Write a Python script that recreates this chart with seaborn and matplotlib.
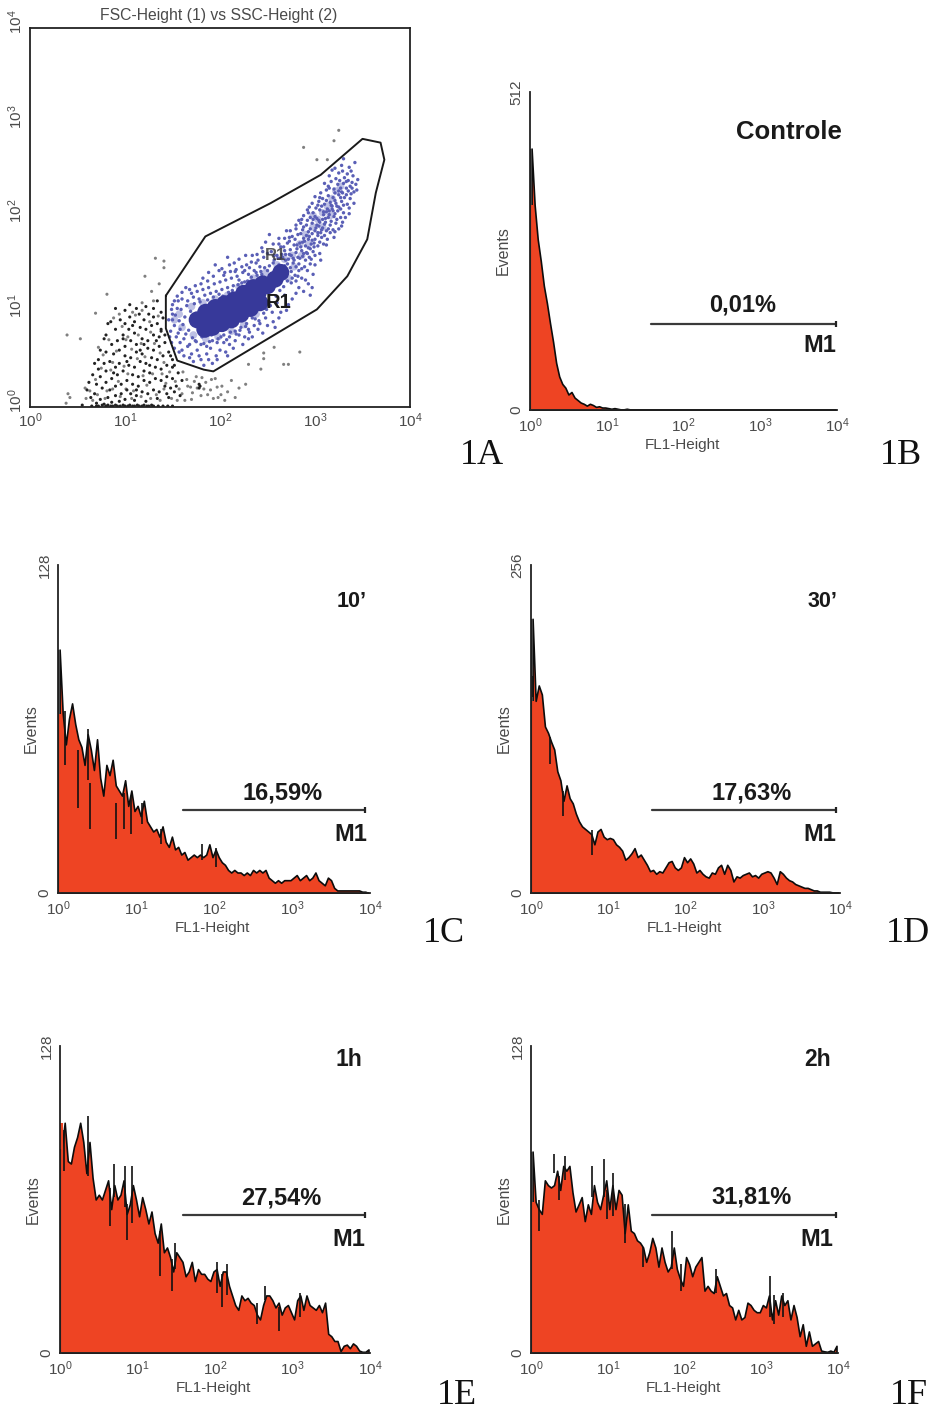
import numpy as np
import pandas as pd
import matplotlib
matplotlib.use("Agg")
import matplotlib.pyplot as plt
import seaborn as sns

W, H = 935, 1411

# ---- histogram channel counts, 25 channels per decade
counts_b = [421,330,275,240,200,172,140,110,76,54,42,36,25,29,20,16,12,10,7,10,8,5,6,4,4,
            3,2,3,2,1,1,2,1,1,1,1,1,1,1,1,1,1,1,1,1,1,1,1,1,1,
            1,1,1,1,1,1,1,1,1,1,1,1,1,1,1,1,1,1,1,1,1,1,1,1,1,
            1,1,1,1,1,1,1,1,1,1,1,1,1,1,1,1,1,1,1,1,1,1,1,1,1]
counts_c = [95,70,58,68,74,66,60,57,50,62,56,48,60,45,38,50,46,52,42,40,38,44,34,40,32,
            34,30,36,28,26,24,25,22,26,20,18,22,17,18,15,16,13,14,15,14,15,14,15,19,14,
            17,14,12,11,9,8,9,8,8,7,8,7,9,8,9,8,9,6,5,4,5,4,5,5,5,
            6,7,5,6,7,5,6,8,5,4,3,6,5,2,1,1,1,1,1,1,1,1,0.5,0.5,0]
counts_d = [214,150,162,155,130,125,118,112,95,88,72,84,74,70,62,56,52,50,48,46,38,48,50,44,42,
            43,42,38,36,33,26,28,31,35,28,30,26,22,17,18,15,17,16,20,24,25,20,18,20,28,
            24,27,23,16,18,15,13,12,16,15,20,22,15,22,18,9,13,12,14,15,16,13,14,12,15,
            16,17,16,12,7,17,15,12,10,9,7,6,5,4,4,3,2,2,1,1,1,1,0.5,0.5,0.5]
counts_e = [85,96,80,79,86,90,96,88,75,88,73,64,66,64,68,72,60,70,64,66,72,58,62,70,64,
            57,65,60,54,59,50,46,54,42,44,40,34,42,40,38,32,34,38,30,35,33,33,31,30,34,
            35,28,34,34,28,24,20,18,24,22,23,21,20,16,14,20,24,24,22,19,21,16,19,20,17,
            14,22,24,18,24,20,19,18,20,17,21,8,7,5,5,0.8,3,3.5,2,4,3,1,0.5,0.5,1.5]
counts_f = [84,63,60,58,72,70,69,70,76,68,78,76,78,67,59,62,65,55,62,58,70,63,60,66,72,
            60,70,60,68,66,50,62,51,50,47,46,44,38,42,48,44,36,44,38,34,36,44,35,31,28,
            40,37,32,36,38,40,26,28,26,25,32,28,24,25,20,19,14,18,14,15,21,20,18,17,17,
            20,19,24,14,22,16,24,20,22,14,20,15,7,12,3,9,3,4,5,1,0.7,0.5,1,0.5,3]

# ---- thin black event spikes: decade, low count, high count
spikes_c = [(.085,50,71),(.256,33,56),(.406,25,43),(.385,44,64),(.74,21,35),(.84,25,39),(.94,23,38),(1.08,27,35),(1.32,19,25),(1.85,13,19),(2.03,10,17.5)]
spikes_d = [(.03,153,169),(.25,101,122),(.42,60,80),(.79,30,49)]
spikes_e = [(.05,76,93),(.355,74,99),(.645,53,69),(.70,65,79),(.84,61,78),(.87,47,62),(.925,54,78),(1.29,32,51),(1.44,26,39),(1.48,35,46),
            (2.03,25,38),(2.09,19,33),(2.15,24,37),(2.54,12,21),(2.65,22,28),(2.83,9,19),(3.1,15,25)]
spikes_f = [(.10,51,64),(.36,64,74),(.30,75,83),(.445,72,82),(.80,65,78),(.95,65,81),(.99,56,68),(1.065,57,75),(1.225,46,62),(1.46,36,44),
            (1.835,35,51),(1.96,26,37),(2.41,25,35),(3.11,15,32),(3.17,12,24),(3.28,15,25)]

# ---- gate R1 (log10 FSC, log10 SSC)
gate_x = [1.43,1.846,2.53,3.06,3.50,3.69,3.73,3.64,3.55,3.34,3.02,1.93,1.83,1.55,1.43,1.43]
gate_y = [1.175,1.80,2.15,2.45,2.83,2.79,2.61,2.26,1.77,1.38,1.03,0.376,0.394,0.49,0.83,1.175]

# ---- dense core of the gated population
core_x = [1.76,1.82,1.9,2.0,2.1,2.2,2.3,2.4,2.5,2.58,2.64, 1.85,1.95,2.05,2.15,2.25,2.35,2.45, 1.84,1.92,2.02,2.12,2.22,2.32,2.42]
core_y = [0.92,0.9,0.93,0.97,1.0,1.07,1.13,1.2,1.28,1.35,1.42, 1.0,1.05,1.09,1.13,1.2,1.26,1.3, 0.82,0.84,0.88,0.92,0.98,1.04,1.1]
mid_pts = [(1.52,0.92),(1.57,0.98),(1.6,0.84),(1.7,1.06),(1.72,0.76),(1.82,1.1),(1.85,0.72),(1.95,1.14),(1.98,0.74),
           (2.08,1.18),(2.12,0.8),(2.2,1.27),(2.25,0.87),(2.35,1.36),(2.38,0.98),(2.48,1.42),(2.5,1.1),(2.6,1.5),
           (2.68,1.56),(2.72,1.36),(2.76,1.6),(2.78,1.48),(2.84,1.72),(2.86,1.6),(2.9,1.82),(2.93,1.72),(2.98,1.9),(3.03,1.98),
           (3.08,2.05),(3.13,2.12),(3.18,2.2),(3.22,2.28),(3.27,2.33),(2.98,2.02),(3.08,1.9),(3.16,2.02)]
# ---- gated events, each read by eye
blue_pts = [(3.3,2.62),(3.42,2.58),(3.28,2.55),(3.36,2.53),(3.18,2.5),(3.25,2.47),(3.34,2.46),(3.4,2.44),(3.31,2.42),(3.22,2.41),(3.45,2.4),
 (3.1,2.36),(3.17,2.38),(3.24,2.35),(3.3,2.36),(3.37,2.33),(3.43,2.35),(3.27,2.31),(3.2,2.3),(3.12,2.29),(3.35,2.28),(3.41,2.27),(3.06,2.26),
 (3.0,2.22),(3.08,2.2),(3.14,2.23),(3.19,2.21),(3.25,2.24),(3.31,2.21),(3.37,2.2),(3.28,2.17),(3.22,2.15),(3.16,2.16),(3.1,2.14),(3.03,2.13),(2.97,2.15),(3.34,2.14),
 (2.92,2.08),(2.98,2.05),(3.05,2.08),(3.12,2.06),(3.18,2.09),(3.24,2.07),(3.3,2.05),(3.36,2.04),(3.27,2.0),(3.2,2.01),(3.14,2.0),(3.08,1.98),(3.02,1.99),(2.95,2.0),(2.88,2.02),
 (2.85,1.94),(2.91,1.92),(2.97,1.94),(3.04,1.91),(3.1,1.93),(3.16,1.92),(3.22,1.94),(3.28,1.91),(3.19,1.87),(3.12,1.86),(3.06,1.84),(3.0,1.86),(2.93,1.85),(2.87,1.87),(2.8,1.88),
 (2.76,1.8),(2.82,1.82),(2.88,1.78),(2.94,1.8),(3.0,1.77),(3.07,1.79),(3.13,1.77),(3.2,1.79),(3.09,1.72),(3.03,1.7),(2.96,1.72),(2.9,1.7),(2.84,1.73),(2.78,1.71),(2.71,1.73),
 (2.68,1.65),(2.74,1.66),(2.8,1.63),(2.86,1.65),(2.92,1.62),(2.98,1.64),(3.05,1.62),(2.96,1.56),(2.9,1.55),(2.84,1.57),(2.78,1.55),(2.72,1.56),(2.66,1.58),(2.6,1.6),
 (2.56,1.52),(2.62,1.5),(2.68,1.49),(2.74,1.47),(2.8,1.48),(2.86,1.46),(2.92,1.44),(2.98,1.4),(2.9,1.34),(2.82,1.38),(2.76,1.36),(2.7,1.38),(2.83,1.26),(2.95,1.18),(2.88,1.22),
 (2.5,1.62),(2.44,1.68),(2.56,1.72),(2.62,1.78),(2.52,1.82),(2.48,1.74),(2.7,1.86),(2.4,1.55),(2.34,1.6),(2.28,1.5),(2.2,1.56),(2.15,1.52),(2.08,1.58),(2.02,1.46),(1.95,1.5),(1.88,1.42),(1.82,1.36),
 (2.42,1.48),(2.36,1.44),(2.3,1.4),(2.24,1.42),(2.18,1.38),(2.12,1.36),(2.06,1.34),(2.0,1.32),(1.94,1.3),(1.88,1.26),(1.82,1.24),(1.76,1.22),(1.7,1.2),(1.64,1.26),(1.56,1.12),
 (1.5,1.08),(1.55,1.04),(1.5,0.98),(1.46,0.92),(1.52,0.86),(1.48,0.8),(1.54,0.74),(1.58,0.68),(1.52,0.62),(1.6,0.6),(1.66,0.64),(1.62,0.54),(1.7,0.56),(1.76,0.6),(1.72,0.48),(1.8,0.5),(1.86,0.56),(1.83,0.44),(1.92,0.46),(1.96,0.54),(2.0,0.6),(1.9,0.62),
 (2.06,0.58),(2.1,0.66),(2.04,0.68),(2.16,0.7),(2.2,0.76),(2.26,0.74),(2.3,0.82),(2.36,0.86),(2.42,0.88),(2.48,0.94),(2.55,1.0),(2.6,1.1),(2.68,1.18),(2.56,0.9),(2.64,1.0),(2.72,1.08),(2.34,0.74),(2.45,0.78),(2.58,0.84),
 (1.6,1.14),(1.66,1.12),(1.72,1.16),(1.78,1.14),(1.84,1.18),(1.9,1.2),(1.96,1.22),(2.02,1.24),(2.08,1.26),(2.14,1.28),(2.2,1.34),(2.26,1.32),(2.32,1.3),(2.38,1.42),(2.44,1.4),(2.5,1.44),
 (1.56,0.78),(1.62,0.72),(1.68,0.66),(1.74,0.7),(1.8,0.66),(1.86,0.64),(1.92,0.7),(1.98,0.72),(2.04,0.76),(2.1,0.74),(2.16,0.8),(2.22,0.84),(2.28,0.88),(2.34,0.94),
 (1.53,0.97),(1.57,0.91),(1.59,1.03),(1.61,0.87),(1.63,0.95),(1.65,1.07),(1.67,0.81),(1.69,1.01),(1.71,0.73),(1.73,1.09),(1.58,0.82),(1.64,0.77),(1.75,0.69),(1.79,1.11),(1.81,0.74),(1.83,0.67),(1.87,1.13),(1.89,0.69),(1.91,0.76),(1.93,1.16),
 (1.97,0.68),(1.99,1.19),(2.01,0.74),(2.03,1.17),(2.07,0.71),(2.09,1.21),(2.11,0.79),(2.13,1.23),(2.17,0.77),(2.19,1.29),(2.21,0.81),(2.23,1.31),(2.27,0.85),(2.29,1.33),(2.31,0.79),(2.33,1.37),(2.37,0.93),(2.39,1.39),(2.41,0.91),(2.43,1.43),
 (2.46,0.99),(2.47,1.47),(2.49,1.03),(2.52,1.49),(2.53,1.07),(2.57,1.55),(2.59,1.17),(2.61,1.57),(2.63,1.23),(2.65,1.61),(2.67,1.27),(2.69,1.55),(2.71,1.33),(2.73,1.61),(2.75,1.43),(2.77,1.57),(2.79,1.39),(2.81,1.67),(2.83,1.51),(2.85,1.69),
 (2.87,1.59),(2.89,1.75),(2.91,1.63),(2.93,1.77),(2.95,1.67),(2.97,1.83),(2.99,1.73),(3.01,1.89),(3.03,1.81),(3.05,1.95),(3.07,1.87),(3.09,2.03),(3.11,1.95),(3.13,2.09),(3.15,2.03),(3.17,2.13),(3.19,2.07),(3.21,2.18),(3.23,2.12),(3.25,2.28),
 (3.27,2.21),(3.29,2.26),(3.33,2.31),(3.35,2.39),(3.39,2.37),(3.26,2.39),(3.15,2.31),(3.04,2.17),(2.94,2.11),(2.83,1.97),(2.73,1.79),(2.64,1.69),(2.54,1.64),(2.46,1.58),(2.38,1.52),(2.31,1.47),(2.26,1.44),(2.17,1.45),(2.11,1.43),(2.04,1.39),
 (3.15,2.44),(3.21,2.52),(3.29,2.49),(3.38,2.49),(3.33,2.38),(3.39,2.31),(3.44,2.29),(3.14,2.33),(3.21,2.26),(3.28,2.27),(3.33,2.24),(3.38,2.25),(3.05,2.21),(3.12,2.18),(3.18,2.12),(3.25,2.11),(3.3,2.13),(3.36,2.1),(3.41,2.15),(3.01,2.1),
 (3.07,2.12),(2.93,2.05),(3.0,2.01),(3.09,2.06),(3.15,2.07),(3.21,2.04),(3.27,2.09),(3.32,2.0),(2.86,1.98),(2.92,1.97),(2.98,1.98),(3.04,1.97),(3.11,1.99),(3.17,1.96),(3.23,1.98),(3.29,1.95),(2.8,1.92),(2.88,1.9),(2.95,1.88),(3.02,1.92),
 (3.08,1.89),(3.14,1.88),(3.21,1.85),(3.25,1.88),(2.74,1.86),(2.79,1.77),(2.85,1.83),(2.91,1.81),(2.97,1.76),(3.03,1.84),(3.1,1.81),(3.16,1.84),(2.68,1.78),(2.73,1.75),(2.81,1.71),(2.87,1.74),(2.93,1.68),(2.99,1.69),(3.05,1.74),(3.12,1.71),
 (2.62,1.72),(2.67,1.69),(2.75,1.6),(2.82,1.58),(2.88,1.62),(2.94,1.58),(3.0,1.6),(3.06,1.55),(2.57,1.6),(2.63,1.57),(2.69,1.61),(2.71,1.51),(2.77,1.52),(2.83,1.44),(2.89,1.48),(2.95,1.51),(3.0,1.5),(2.64,1.43),(2.7,1.45),(2.75,1.31),
 (2.8,1.33),(2.86,1.36),(2.93,1.3),(2.97,1.26),(2.45,1.64),(2.39,1.61),(2.33,1.53),(2.27,1.6),(2.23,1.48),(2.16,1.43),(2.1,1.5),(2.05,1.42),(1.99,1.44),(1.93,1.38),(1.87,1.33),(1.8,1.3),(1.74,1.28),(1.68,1.24),(1.6,1.21),(1.55,1.17),
 (2.4,0.82),(2.5,0.86),(2.62,0.94),(2.7,1.02),(2.76,1.14),(2.8,1.2),(2.3,0.72),(2.24,0.66),(2.14,0.62),(2.08,0.54),(1.97,0.5),(1.88,0.5),(1.78,0.54),(1.68,0.52),(1.57,0.58),(1.49,0.68),(1.47,0.74),(1.5,0.92),(1.49,1.03),(1.52,1.12)]
# ---- events outside the gate
grey_pts = [(3.25,2.92),(3.2,2.81),(2.88,2.74),(3.02,2.61),(3.13,2.61),(1.32,1.57),(1.41,1.54),(1.41,1.47),(1.21,1.38),(0.81,1.19),(0.69,0.99),(0.39,0.76),(0.53,0.72),
 (2.57,0.63),(2.46,0.57),(2.46,0.51),(2.84,0.58),(2.67,0.45),(2.72,0.45),(2.43,0.4),(2.3,0.45),(2.27,0.24),(2.2,0.2),(2.12,0.28),(2.08,0.16),(2.02,0.22),(2.16,0.1),
 (1.95,0.3),(1.9,0.18),(1.85,0.26),(1.8,0.12),(1.75,0.32),(1.7,0.08),(1.66,0.22),(1.6,0.14),(1.76,0.2),(1.98,0.1),(0.4,0.14),(0.42,0.1),(0.38,0.04),(0.58,0.2),(1.28,1.22),(1.36,1.3),(1.18,1.1),(1.3,1.12),
 (0.72,0.63),(0.77,0.55),(0.83,0.71),(0.87,0.47),(0.91,0.59),(0.97,0.85),(1.01,0.71),(1.07,0.61),(1.11,0.97),(1.17,0.67),(1.21,0.53),(1.27,0.79),(1.31,0.67),(1.37,0.57),(1.41,0.47),(0.69,0.29),(0.75,0.41),(0.81,0.17),(0.85,0.39),(0.93,0.27),
 (0.99,0.43),(1.03,0.35),(1.09,0.17),(1.13,0.51),(1.19,0.33),(1.23,0.23),(1.29,0.35),(1.33,0.13),(1.39,0.35),(1.43,0.25),(1.47,0.37),(1.53,0.27),(1.57,0.19),(1.61,0.37),(1.65,0.29),(1.69,0.21),(1.71,0.15),(1.73,0.27),(1.81,0.31),(1.83,0.19),
 (1.87,0.13),(1.91,0.29),(1.93,0.09),(1.97,0.21),(2.01,0.13),(2.05,0.07),(0.59,0.09),(0.63,0.17),(0.66,0.07),(0.71,0.13),(0.79,0.09),(0.87,0.19),(0.95,0.11),(1.01,0.19),(1.07,0.09),(1.17,0.11),(1.27,0.09),(1.37,0.07),(1.41,0.19),(1.49,0.09),
 (1.55,0.07),(1.63,0.07),(1.08,1.0),(1.18,1.02),(1.26,0.9),(1.35,0.96),(0.94,0.98),(0.88,0.94),(1.14,0.76),(1.03,0.74)]
black_pts = [(1.38,0.82),(1.38,0.8),(1.42,0.76),(1.5,0.5),(1.52,0.44),(1.48,0.54),(1.78,0.24),(1.78,0.2),(1.79,0.22),(0.85,0.9),(0.82,0.88),(0.8,0.76),(0.78,0.72),
 (1.3,0.95),(1.25,0.98),(1.2,0.92),(1.15,0.98),(1.1,0.9),(1.05,0.95),(1.0,0.88),(0.95,0.92),(0.9,0.82),(1.34,0.88),(1.28,0.86),(1.22,0.82),(1.16,0.84),(1.1,0.78),(1.04,0.82),(0.98,0.76),(0.92,0.7),(0.86,0.66),
 (1.36,0.74),(1.3,0.76),(1.24,0.7),(1.18,0.72),(1.12,0.66),(1.06,0.7),(1.0,0.64),(0.94,0.6),(0.88,0.56),(0.8,0.58),(0.74,0.6),(0.72,0.5),(0.78,0.46),(0.84,0.48),
 (1.42,0.68),(1.36,0.64),(1.3,0.6),(1.24,0.62),(1.18,0.56),(1.12,0.58),(1.06,0.52),(1.0,0.54),(0.94,0.46),(0.9,0.42),(0.8,0.38),(0.72,0.4),(0.68,0.46),(0.66,0.34),(0.74,0.32),
 (1.46,0.58),(1.4,0.54),(1.34,0.5),(1.28,0.52),(1.22,0.46),(1.16,0.48),(1.1,0.42),(1.04,0.44),(0.98,0.38),(0.92,0.34),(0.86,0.3),(0.8,0.26),(0.7,0.24),(0.62,0.26),(0.6,0.18),
 (1.5,0.42),(1.44,0.44),(1.38,0.4),(1.32,0.42),(1.26,0.36),(1.2,0.38),(1.14,0.32),(1.08,0.34),(1.02,0.28),(0.96,0.24),(0.9,0.22),(0.84,0.18),(0.76,0.2),(0.68,0.14),(0.64,0.1),
 (1.56,0.36),(1.5,0.3),(1.44,0.32),(1.38,0.28),(1.32,0.3),(1.26,0.26),(1.2,0.28),(1.14,0.22),(1.08,0.24),(1.02,0.18),(0.96,0.14),(0.9,0.12),(0.82,0.1),(0.74,0.08),(0.7,0.04),
 (1.6,0.28),(1.54,0.22),(1.48,0.2),(1.42,0.22),(1.36,0.16),(1.3,0.18),(1.24,0.14),(1.18,0.16),(1.12,0.12),(1.06,0.14),(1.0,0.08),(0.94,0.06),(0.86,0.05),(0.78,0.03),(1.1,0.07),(1.22,0.06),(1.34,0.09),(1.46,0.1),(1.58,0.12),
 (0.55,0.02),(0.65,0.01),(0.7,0.01),(0.72,0.01),(0.76,0.02),(0.8,0.01),(0.82,0.02),(0.85,0.01),(0.87,0.01),(0.9,0.02),(0.92,0.01),(0.95,0.01),(0.98,0.02),(1.0,0.01),(1.03,0.01),(1.05,0.02),(1.08,0.01),(1.1,0.01),(1.13,0.02),(1.15,0.01),(1.18,0.01),(1.2,0.02),(1.23,0.01),(1.25,0.01),(1.28,0.02),(1.3,0.01),(1.35,0.01),(1.4,0.01),(1.45,0.01),(1.5,0.01),
 (1.05,1.08),(1.12,1.04),(1.0,1.02),(0.9,1.04),(1.22,1.06),(1.3,1.04),(1.38,1.0),(1.4,0.94),(1.34,1.12),(0.98,0.72),(1.16,0.6),(1.08,0.86),(1.26,0.44),(1.44,0.14),(1.52,0.16),(1.12,0.18),(0.88,0.36),(1.02,0.48),(1.2,0.66),(1.33,0.7)]

panels = [
 dict(box=(530,837,92,410), vals=counts_b, spikes=[], ymax=512, y_lab="512", big="Controle", big_r=842, big_y=132, big_fs=18.5,
      pct="0,01%", pct_x=743, pct_y=305, bar=(651,836,324), m_r=836, m_y=346, tag="1B", tag_x=901, tag_y=455),
 dict(box=(58,370,565,893), vals=counts_c, spikes=spikes_c, ymax=128, y_lab="128", big="10’", big_r=367, big_y=602, big_fs=15.5,
      pct="16,59%", pct_x=283, pct_y=793, bar=(183,365,810), m_r=367, m_y=834, tag="1C", tag_x=444, tag_y=933),
 dict(box=(531,840,565,893), vals=counts_d, spikes=spikes_d, ymax=256, y_lab="256", big="30’", big_r=837, big_y=602, big_fs=15.5,
      pct="17,63%", pct_x=752, pct_y=793, bar=(652,836,810), m_r=836, m_y=834, tag="1D", tag_x=908, tag_y=933),
 dict(box=(60,370,1046,1353), vals=counts_e, spikes=spikes_e, ymax=128, y_lab="128", big="1h", big_r=362, big_y=1060, big_fs=16.5,
      pct="27,54%", pct_x=281, pct_y=1198, bar=(183,365,1215), m_r=365, m_y=1240, tag="1E", tag_x=457, tag_y=1396),
 dict(box=(531,838,1046,1353), vals=counts_f, spikes=spikes_f, ymax=128, y_lab="128", big="2h", big_r=831, big_y=1060, big_fs=16.5,
      pct="31,81%", pct_x=752, pct_y=1197, bar=(652,836,1215), m_r=833, m_y=1239, tag="1F", tag_x=909, tag_y=1396),
]

sns.set_theme(style="white", rc={"font.family": ["Liberation Sans", "DejaVu Sans"], "mathtext.fontset": "custom",
                                 "mathtext.rm": "Liberation Sans"})
TICK = "#4a4a4a"
fig = plt.figure(figsize=(W/100, H/100), dpi=100, facecolor="white")

def add_ax(x0, x1, top, bottom):
    return fig.add_axes([x0/W, 1-bottom/H, (x1-x0)/W, (bottom-top)/H])

def ftext(x, y, s, **kw):
    fig.text(x/W, 1-y/H, s, **kw)

dec_labels = [r"$\mathregular{10^{%d}}$" % k for k in range(5)]

# ---- panel A
ax = add_ax(30, 410, 28, 407)
bx, by = zip(*blue_pts); kx, ky = zip(*black_pts); gx, gy = zip(*grey_pts); mx, my = zip(*mid_pts)
p = lambda v: 10**np.asarray(v, float)
sns.scatterplot(x=p(gx), y=p(gy), s=5, color="#808080", edgecolor="none", ax=ax)
sns.scatterplot(x=p(kx), y=p(ky), s=5, color="#222222", edgecolor="none", ax=ax)
sns.scatterplot(x=p(mx), y=p(my), s=30, color="#8a8ecf", edgecolor="none", alpha=0.55, ax=ax)
sns.scatterplot(x=p(bx), y=p(by), s=6, color="#5a5fb6", edgecolor="none", ax=ax)
sns.scatterplot(x=p(core_x), y=p(core_y), s=150, color="#37399a", edgecolor="none", ax=ax)
sns.lineplot(x=p(gate_x), y=p(gate_y), sort=False, estimator=None, color="#1a1a1a", lw=1.4, ax=ax)
ax.set_xscale("log"); ax.set_yscale("log")
ax.set_xlim(1, 1e4); ax.set_ylim(1, 1e4)
ax.set_xticks([10.0**k for k in range(5)], dec_labels)
ax.set_yticks([10.0**k for k in range(5)], [""]*5)
for k, lab in enumerate(dec_labels):
    ax.annotate(lab, xy=(0, 10.0**k), xycoords=ax.get_yaxis_transform(), xytext=(-3.5, 4.5), textcoords="offset points",
                rotation=90, ha="right", va="center", fontsize=11, color=TICK)
ax.minorticks_off()
ax.tick_params(axis="both", length=2, width=1, color="#222222", labelsize=11, labelcolor=TICK, pad=1.5)
for s in ax.spines.values():
    s.set_color("#222222"); s.set_linewidth(1.3); s.set_visible(True)
ax.set_xlabel(""); ax.set_ylabel("")
ax.text(p(2.58), p(1.6), "R1", ha="center", va="center", fontsize=12, fontweight="bold", color="#333333", alpha=.8)
ax.text(p(2.62), p(1.1), "R1", ha="center", va="center", fontsize=14.5, fontweight="bold", color="#1a1a1a")
ftext(219, 15.5, "FSC-Height (1) vs SSC-Height (2)", ha="center", va="center", fontsize=11.3, color=TICK)
ftext(482, 455, "1A", ha="center", va="center", fontsize=26, family="Liberation Serif", color="#111111")

# ---- panels B-F
n_per_dec = 25
for pn in panels:
    x0, x1, top, bottom = pn["box"]
    ax = add_ax(x0, x1, top, bottom)
    vals = np.asarray(pn["vals"], float)
    edges = np.arange(len(vals)+1)/n_per_dec
    centers = (edges[:-1]+edges[1:])/2
    df = pd.DataFrame({"channel": 10**centers, "events": vals})
    sns.histplot(data=df, x="channel", weights="events", bins=len(vals), binrange=(0, len(vals)/n_per_dec),
                 log_scale=True, element="poly", fill=True,
                 color="#ee4423", alpha=1, edgecolor="#0c0c0c", linewidth=1.2, ax=ax)
    ym = pn["ymax"]
    ax.vlines([1.025], 0, vals[1], color="#ee4423", lw=3)
    ax.vlines([1.012], 0, vals[0], color="#0c0c0c", lw=1.5)
    for dec, lo, hi in pn["spikes"]:
        ax.vlines([10**dec], lo, hi, color="#111111", lw=1.2)
    ax.set_xlim(1, 1e4); ax.set_ylim(0, ym)
    ax.set_xticks([10.0**k for k in range(5)], dec_labels)
    ax.minorticks_off()
    ax.set_yticks([0, ym/4, ym/2, 3*ym/4, ym], ["0", "", "", "", pn["y_lab"]], rotation=90, va="center")
    ax.tick_params(axis="both", length=2, width=1, color="#222222", labelsize=11, labelcolor=TICK, pad=2.5)
    sns.despine(ax=ax)
    for s in ("left", "bottom"):
        ax.spines[s].set_color("#222222"); ax.spines[s].set_linewidth(1.3)
    ax.set_xlabel(""); ax.set_ylabel("")
    ftext((x0+x1)/2-1.5, bottom+35, "FL1-Height", ha="center", va="center", fontsize=11, color=TICK)
    ftext(x0-27, (top+bottom)/2, "Events", rotation=90, ha="center", va="center", fontsize=11.5, color=TICK)
    ftext(pn["big_r"], pn["big_y"], pn["big"], ha="right", va="center", fontsize=pn["big_fs"], fontweight="bold", color="#1a1a1a")
    ftext(pn["pct_x"], pn["pct_y"], pn["pct"], ha="center", va="center", fontsize=17, fontweight="bold", color="#1a1a1a")
    ftext(pn["m_r"], pn["m_y"], "M1", ha="right", va="center", fontsize=17, fontweight="bold", color="#1a1a1a")
    bl, br, by_ = pn["bar"]
    fy = (bottom-by_)/(bottom-top)
    dl = (bl-x0)/(x1-x0)*4; dr = (br-x0)/(x1-x0)*4
    ax.plot([10**dl, 10**dr], [fy*ym, fy*ym], color="#3a3a3a", lw=1.6)
    ax.plot([10**dr], [fy*ym], marker="|", ms=5, mew=1.6, color="#222222")
    ftext(pn["tag_x"], pn["tag_y"], pn["tag"], ha="center", va="center", fontsize=26, family="Liberation Serif", color="#111111")

fig.savefig("out.png", dpi=100, facecolor="white")
